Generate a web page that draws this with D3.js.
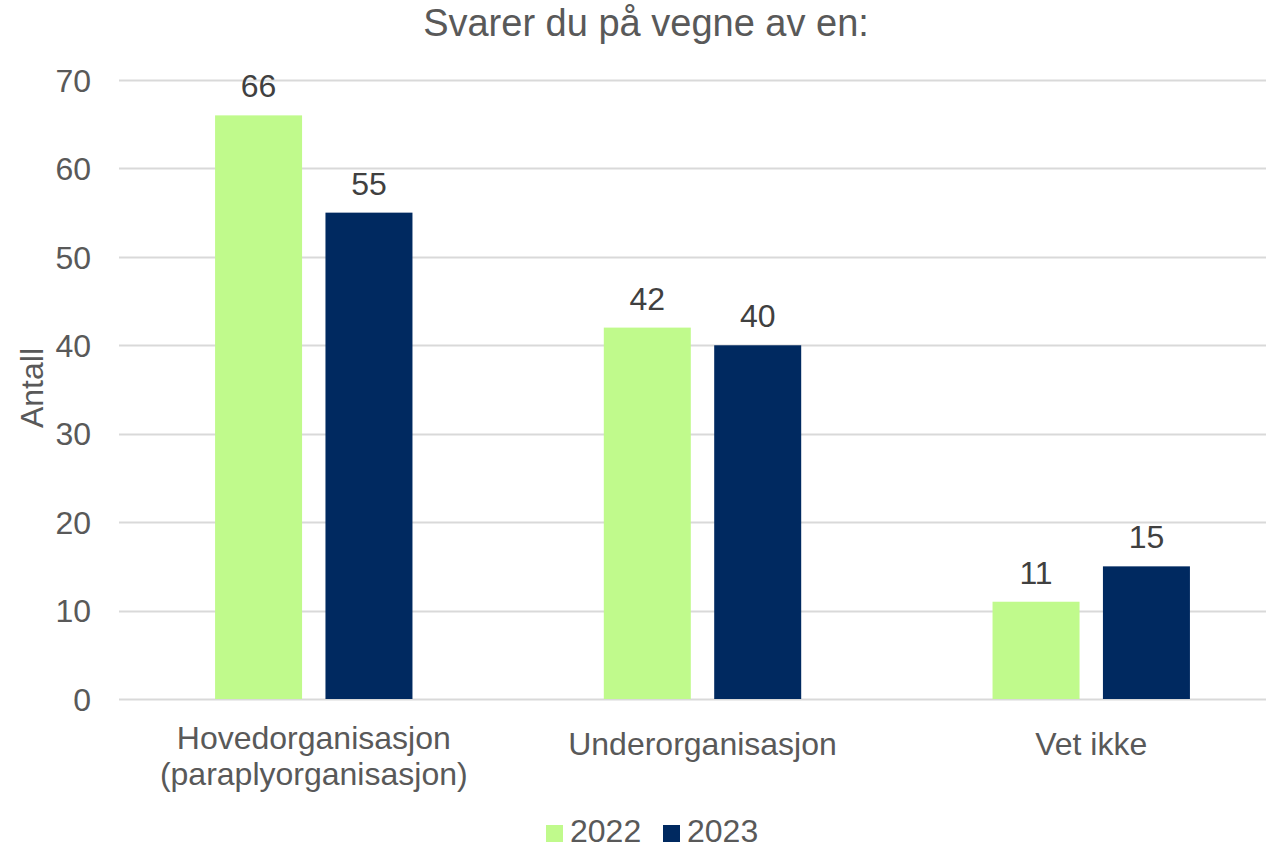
<!DOCTYPE html>
<html><head><meta charset="utf-8">
<script src="https://cdn.jsdelivr.net/npm/d3@7"></script>
<style>body{margin:0;background:#fff}svg{display:block;font-family:"Liberation Sans",Arial,sans-serif}</style>
</head><body><svg id="c" width="1266" height="849"></svg>
<script>
const categories = [["Hovedorganisasjon","(paraplyorganisasjon)"],["Underorganisasjon"],["Vet ikke"]];
const seriesNames = ["2022","2023"];
const values2022 = [66, 42, 11];
const values2023 = [55, 40, 15];
const yTicks = [0,10,20,30,40,50,60,70];
const colors = ["#C0FA8C","#002960"];
const series = [values2022, values2023];

const svg = d3.select("#c");
const x = d3.scaleBand().domain(categories.map((d,i)=>i)).range([119.4,1285.6]).paddingInner(0).paddingOuter(0);
const y = d3.scaleLinear().domain([0,70]).range([699,80]);
const groupW = 197.4, barW = 87;
const xInner = d3.scaleOrdinal().domain(seriesNames).range([0, groupW-barW]);
const FS = 32;

// gridlines
svg.append("g").selectAll("line").data(yTicks).join("line")
  .attr("x1",119).attr("x2",1266).attr("y1",d=>Math.round(y(d))+0.5).attr("y2",d=>Math.round(y(d))+0.5)
  .attr("stroke","#d9d9d9").attr("stroke-width",2);

// y axis labels
const yAxis = d3.axisLeft(y).tickValues(yTicks).tickSize(0).tickPadding(0);
const ya = svg.append("g").attr("transform","translate(91,0)").call(yAxis);
ya.select(".domain").remove();
ya.selectAll("text").attr("font-size",FS).attr("fill","#595959").attr("font-family","Liberation Sans, Arial").attr("dy","0.35em");

// bars
series.forEach((vals,si)=>{
  const g = svg.append("g");
  g.selectAll("rect").data(vals).join("rect")
    .attr("x",(d,i)=>x(i)+(x.bandwidth()-groupW)/2 + xInner(seriesNames[si]))
    .attr("y",d=>y(d)).attr("width",barW).attr("height",d=>y(0)-y(d))
    .attr("fill",colors[si]);
  g.selectAll("text").data(vals).join("text")
    .attr("x",(d,i)=>x(i)+(x.bandwidth()-groupW)/2 + xInner(seriesNames[si]) + barW/2)
    .attr("y",d=>y(d)-18).attr("text-anchor","middle")
    .attr("font-size",FS).attr("fill","#404040").text(d=>d);
});

// category labels
const cl = svg.append("g");
categories.forEach((lines,i)=>{
  const base = lines.length > 1 ? 749 : 755;
  lines.forEach((t,j)=>{
    cl.append("text").attr("x",x(i)+x.bandwidth()/2).attr("y",base+j*36)
      .attr("text-anchor","middle").attr("font-size",FS).attr("fill","#595959").text(t);
  });
});

// title
svg.append("text").attr("x",646).attr("y",36).attr("text-anchor","middle")
  .attr("font-size",38).attr("fill","#595959").text("Svarer du på vegne av en:");

// y title
svg.append("text").attr("transform","translate(43,388) rotate(-90)").attr("text-anchor","middle")
  .attr("font-size",FS).attr("fill","#595959").text("Antall");

// legend
const leg = [{n:"2022",x:546},{n:"2023",x:663}];
leg.forEach((l,i)=>{
  svg.append("rect").attr("x",l.x).attr("y",825).attr("width",17).attr("height",17).attr("fill",colors[i]);
  svg.append("text").attr("x",l.x+24).attr("y",842).attr("font-size",FS).attr("fill","#595959").text(l.n);
});
</script></body></html>
